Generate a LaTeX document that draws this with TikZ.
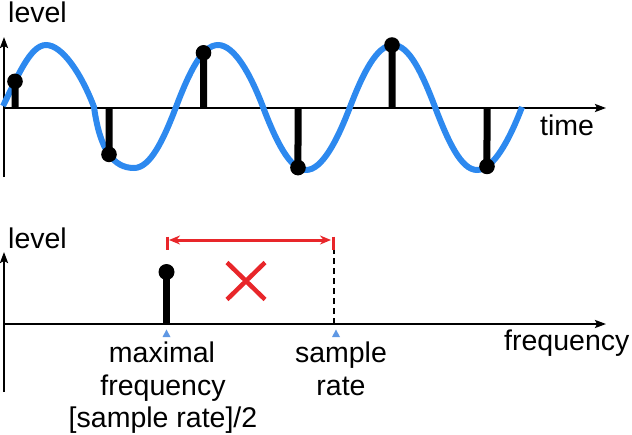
\documentclass[tikz,border=0pt]{standalone}
\usepackage{fontspec}
\setmainfont{Liberation Sans}
\usetikzlibrary{arrows.meta,intersections}
\definecolor{wavecol}{RGB}{45,137,239}
\definecolor{redcol}{RGB}{232,38,42}
\definecolor{tricol}{RGB}{95,152,228}
\begin{document}
\begin{tikzpicture}[x=1pt,y=-1pt,
  axis/.style={line width=2pt,-{Stealth[length=11pt,width=8pt,inset=2pt]}},
  wavecurve/.style={wavecol,line width=6pt},
  stemline/.style={line width=7pt},
  dotfill/.style={fill=black},
  lbl/.style={font=\fontsize{28.5pt}{32.5pt}\selectfont,inner sep=0pt},
  redline/.style={redcol,line width=3pt},
  tri/.style={fill=tricol}]
\useasboundingbox (0,0) rectangle (632,434);
% ---------- top plot ----------
\coordinate (tyb) at (4,177);
\coordinate (tyt) at (4,37);
\coordinate (txl) at (4,108);
\coordinate (txr) at (606,108);
\draw[axis] (tyb) -- (tyt);
\draw[axis] (txl) -- (txr);
\draw[wavecurve, name path=curve] (3,106)
  .. controls +(14,-28) and +(-16,0) .. (46,45)
  .. controls +(16,0) and +(-13,-34) .. (94,107)
  .. controls +(6,44) and +(-20,0) .. (134,168)
  .. controls +(16,0) and +(-13,34) .. (176,107)
  .. controls +(13,-34) and +(-16,0) .. (218,45)
  .. controls +(16,0) and +(-13,-34) .. (263,107)
  .. controls +(13,34) and +(-16,0) .. (306,170)
  .. controls +(16,0) and +(-13,34) .. (350,107)
  .. controls +(13,-34) and +(-16,0) .. (393,45)
  .. controls +(16,0) and +(-13,-34) .. (435,107)
  .. controls +(13,34) and +(-16,0) .. (477,170)
  .. controls +(16,0) and +(-13,34) .. (522,107);
\foreach \sx [count=\i] in {15,109,203.5,298,392,487}{
  \path[name path=vline\i] (\sx,20) -- (\sx,200);
  \path[name intersections={of=curve and vline\i, by=d\i}];
  \coordinate (b\i) at (\sx,108);
  \draw[stemline] (b\i) -- (d\i);
  \fill[dotfill] (d\i) circle (7.8pt);
}
\node[lbl,anchor=base west] (lv1) at (8,22) {level};
\node[lbl,anchor=base west] (tm) at (540,135) {time};
% ---------- bottom plot ----------
\coordinate (byb) at (4,392);
\coordinate (byt) at (4,252);
\coordinate (bxl) at (4,324);
\coordinate (bxr) at (606,324);
\draw[axis] (byb) -- (byt);
\draw[axis] (bxl) -- (bxr);
\coordinate (sb) at (166.5,324);
\coordinate (st) at (166.5,272);
\draw[line width=7pt] (sb) -- (st);
\fill[dotfill] (st) circle (8pt);
\coordinate (db) at (334,324);
\coordinate (dt) at (334,249);
\draw[line width=2.5pt, dash pattern=on 6pt off 4pt] (db) -- (dt);
\fill[tri] (162.5,337) -- (170.5,337) -- (166.5,329.5) -- cycle;
\fill[tri] (332,337) -- (340,337) -- (336,329.5) -- cycle;
\coordinate (rl) at (167,240);
\coordinate (rr) at (333,240);
\draw[redline] (167,236.5) -- (167,249.5);
\draw[redline] (333,236.5) -- (333,249.5);
\draw[redline,{Stealth[length=11pt,width=9pt]}-{Stealth[length=11pt,width=9pt]}] ([xshift=2pt]rl) -- ([xshift=-2pt]rr);
\coordinate (xc) at (246,281);
\draw[redcol,line width=4.5pt] ([shift={(-19,-18.5)}]xc) -- ([shift={(19,18.5)}]xc)
  ([shift={(-19,18.5)}]xc) -- ([shift={(19,-18.5)}]xc);
\node[lbl,anchor=base west] (lv2) at (8,248) {level};
\node[lbl,anchor=base west] (fq) at (504,350) {frequency};
\node[lbl,anchor=base] (mf1) at (162,362) {maximal};
\node[lbl,anchor=base] (mf2) at (163,395) {frequency};
\node[lbl,anchor=base] (mf3) at (163,427) {[sample rate]/2};
\node[lbl,anchor=base] (sr1) at (341,362) {sample};
\node[lbl,anchor=base] (sr2) at (341,395) {rate};
\end{tikzpicture}
\end{document}
